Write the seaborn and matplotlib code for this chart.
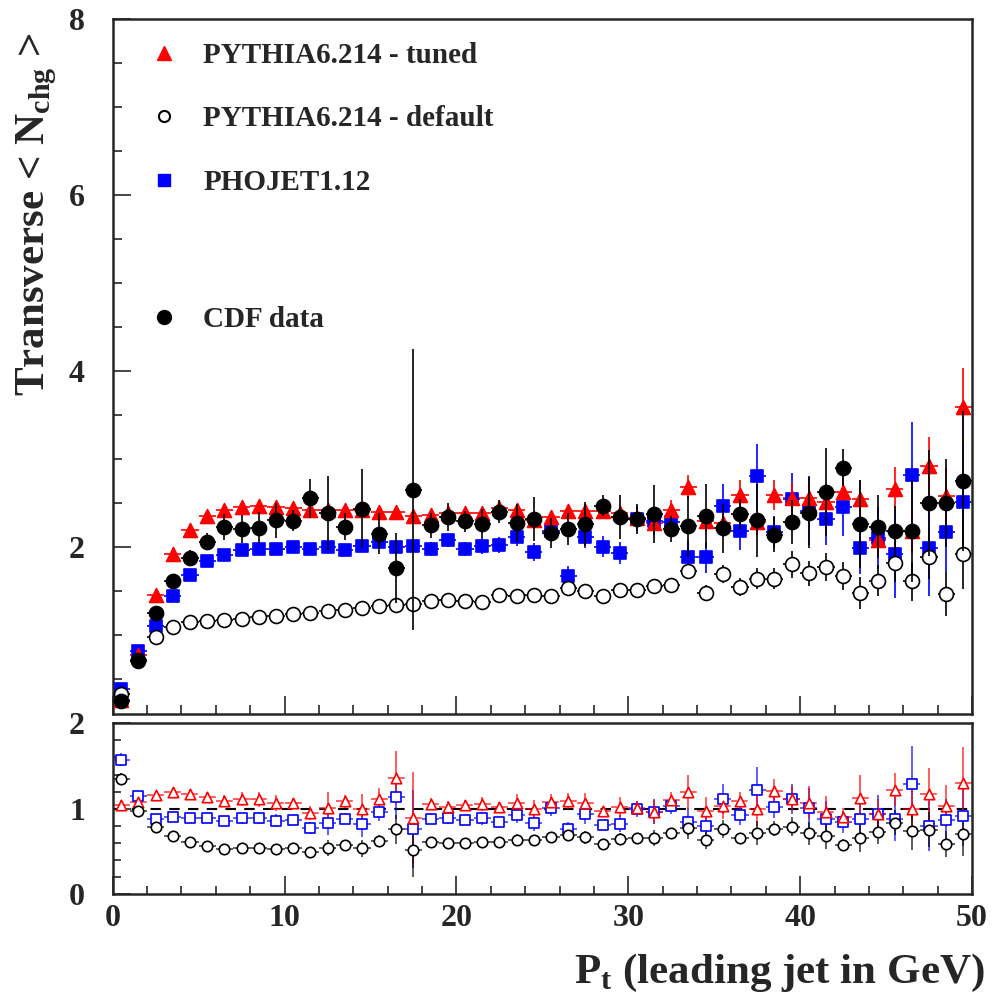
import numpy as np
import pandas as pd
import matplotlib
matplotlib.use("Agg")
import matplotlib.pyplot as plt
from matplotlib.lines import Line2D
from matplotlib.ticker import MultipleLocator
import seaborn as sns

# bin centres of leading jet Pt (GeV)
pt = np.arange(0.5, 50, 1.0)

# CDF data
cdf = [0.245, 0.716, 1.25, 1.61, 1.875, 2.06, 2.227, 2.205, 2.22, 2.30,
       2.295, 2.55, 2.39, 2.23, 2.435, 2.15, 1.76, 2.65, 2.245, 2.34,
       2.29, 2.265, 2.40, 2.27, 2.32, 2.16, 2.205, 2.265, 2.47, 2.34,
       2.32, 2.37, 2.20, 2.234, 2.35, 2.21, 2.37, 2.30, 2.14, 2.28,
       2.39, 2.625, 2.90, 2.26, 2.23, 2.18, 2.18, 2.50, 2.50, 2.75]
cdf_err = [0.01, 0.02, 0.03, 0.06, 0.09, 0.10, 0.15, 0.16, 0.18, 0.20,
           0.12, 0.22, 0.42, 0.15, 0.45, 0.23, 0.40, 1.60, 0.14, 0.16,
           0.12, 0.16, 0.13, 0.22, 0.25, 0.17, 0.18, 0.25, 0.12, 0.25,
           0.17, 0.33, 0.15, 0.35, 0.36, 0.28, 0.17, 0.42, 0.20, 0.25,
           0.40, 0.50, 0.21, 0.50, 0.36, 0.28, 0.58, 0.60, 0.50, 0.80]

# PYTHIA6.214 - tuned
tuned = [0.256, 0.77, 1.45, 1.92, 2.196, 2.348, 2.424, 2.455, 2.46, 2.455,
         2.44, 2.42, 2.42, 2.42, 2.415, 2.40, 2.40, 2.355, 2.36, 2.39,
         2.39, 2.39, 2.44, 2.42, 2.31, 2.34, 2.405, 2.405, 2.405, 2.39,
         2.33, 2.27, 2.42, 2.68, 2.29, 2.27, 2.586, 2.28, 2.59, 2.55,
         2.557, 2.51, 2.625, 2.54, 2.08, 2.66, 2.18, 2.915, 2.575, 3.59]
tuned_err = [0.01, 0.01, 0.02, 0.02, 0.02, 0.02, 0.02, 0.02, 0.02, 0.03,
             0.03, 0.03, 0.03, 0.03, 0.04, 0.04, 0.04, 0.04, 0.05, 0.05,
             0.05, 0.05, 0.06, 0.06, 0.06, 0.07, 0.07, 0.08, 0.08, 0.08,
             0.09, 0.10, 0.11, 0.14, 0.12, 0.14, 0.17, 0.15, 0.17, 0.18,
             0.17, 0.20, 0.22, 0.22, 0.20, 0.25, 0.25, 0.33, 0.32, 0.44]

# PYTHIA6.214 - default
default = [0.33, 0.70, 0.977, 1.086, 1.143, 1.163, 1.174, 1.185, 1.20, 1.21,
           1.24, 1.25, 1.276, 1.28, 1.31, 1.333, 1.335, 1.356, 1.38, 1.40,
           1.38, 1.375, 1.455, 1.44, 1.455, 1.44, 1.534, 1.50, 1.447, 1.51,
           1.51, 1.56, 1.565, 1.73, 1.477, 1.69, 1.545, 1.64, 1.64, 1.80,
           1.70, 1.77, 1.665, 1.477, 1.616, 1.82, 1.61, 1.88, 1.466, 1.92]
default_err = [0.01, 0.01, 0.01, 0.01, 0.01, 0.01, 0.01, 0.01, 0.01, 0.02,
               0.02, 0.02, 0.02, 0.02, 0.02, 0.02, 0.02, 0.03, 0.03, 0.03,
               0.03, 0.03, 0.04, 0.04, 0.04, 0.04, 0.05, 0.05, 0.05, 0.06,
               0.06, 0.07, 0.07, 0.10, 0.09, 0.10, 0.10, 0.12, 0.12, 0.15,
               0.14, 0.16, 0.16, 0.18, 0.18, 0.22, 0.22, 0.25, 0.25, 0.40]

# PHOJET1.12
phojet = [0.386, 0.822, 1.098, 1.446, 1.68, 1.836, 1.91, 1.96, 1.98, 1.98,
          2.0, 1.98, 2.0, 1.97, 2.007, 2.06, 2.0, 2.007, 1.98, 2.075,
          1.98, 2.007, 2.02, 2.11, 1.94, 2.18, 1.673, 2.11, 2.0, 1.93,
          2.32, 2.29, 2.28, 1.89, 1.88, 2.46, 2.18, 2.80, 2.17, 2.54,
          2.41, 2.32, 2.45, 1.99, 2.10, 1.92, 2.82, 1.99, 2.17, 2.51]
phojet_err = [0.01, 0.02, 0.02, 0.02, 0.03, 0.03, 0.03, 0.03, 0.04, 0.04,
              0.04, 0.05, 0.05, 0.05, 0.06, 0.06, 0.07, 0.07, 0.08, 0.08,
              0.08, 0.09, 0.09, 0.10, 0.10, 0.11, 0.11, 0.12, 0.12, 0.13,
              0.14, 0.15, 0.16, 0.19, 0.18, 0.25, 0.22, 0.37, 0.18, 0.30,
              0.39, 0.30, 0.33, 0.30, 0.35, 0.50, 0.60, 0.55, 0.45, 0.65]

labels = ["PYTHIA6.214 - tuned", "PYTHIA6.214 - default", "PHOJET1.12", "CDF data"]

sns.set_theme(style="ticks")
plt.rcParams["font.family"] = ["Liberation Serif", "DejaVu Serif"]
plt.rcParams["font.weight"] = "bold"
plt.rcParams["mathtext.fontset"] = "custom"
plt.rcParams["mathtext.rm"] = "Liberation Serif:bold"
plt.rcParams["mathtext.bf"] = "Liberation Serif:bold"
plt.rcParams["axes.linewidth"] = 1.8

fig = plt.figure(figsize=(9.92, 9.96), dpi=100)
ax = fig.add_axes([0.1136, 0.2831, 0.8663, 0.6978])
axr = fig.add_axes([0.1136, 0.1024, 0.8663, 0.1714])

# model settings: values, errors, marker, edge colour, fill colour, size
models = [
    (phojet, phojet_err, "s", "blue", "blue", 9),
    (tuned, tuned_err, "^", "red", "red", 10),
    (default, default_err, "o", "black", "white", 10),
]

# top panel
for vals, errs, mk, col, fill, ms in models:
    eb = ax.errorbar(pt, vals, xerr=0.5, yerr=errs, fmt="none", ecolor=col,
                     elinewidth=1.2, capsize=0, zorder=2)
    if mk == "^":
        eb[2][0].set_linestyle((0, (4, 3)))
    sns.scatterplot(x=pt, y=vals, marker=mk, color=fill, edgecolor=col,
                    linewidth=1.2, s=ms ** 2, ax=ax, legend=False, zorder=3)

ax.errorbar(pt, cdf, xerr=0.5, yerr=cdf_err, fmt="none", ecolor="black",
            elinewidth=1.2, capsize=0, zorder=4)
sns.scatterplot(x=pt, y=cdf, marker="o", color="black", edgecolor="black",
                s=110, ax=ax, legend=False, zorder=5)

ax.set_xlim(0, 50)
ax.set_ylim(0.1, 8)
ax.yaxis.set_major_locator(MultipleLocator(2))
ax.yaxis.set_minor_locator(MultipleLocator(0.5))
ax.xaxis.set_major_locator(MultipleLocator(10))
ax.xaxis.set_minor_locator(MultipleLocator(2))
ax.tick_params(which="major", direction="in", length=13, width=1.2, labelsize=23, pad=20)
ax.tick_params(which="minor", direction="in", length=6.5, width=1.2)
ax.tick_params(axis="x", labelbottom=False)
ax.set_yticks([2, 4, 6, 8])
ax.set_ylabel(r"Transverse < N$_{\rm chg}$ >", fontsize=31, fontweight="bold")
ax.yaxis.set_label_coords(-0.062, 0.72)

# legend
h_tuned = Line2D([], [], marker="^", ls="none", color="red", ms=10)
h_def = Line2D([], [], marker="o", ls="none", mfc="white", mec="black", mew=1.5, ms=8)
h_pho = Line2D([], [], marker="s", ls="none", color="blue", ms=9)
h_cdf = Line2D([], [], marker="o", ls="none", color="black", ms=10)
leg_font = {"family": "Liberation Serif", "weight": "bold", "size": 21}
leg1 = ax.legend([h_tuned, h_def, h_pho], labels[:3], loc="upper left",
                 bbox_to_anchor=(0.012, 1.005), frameon=False, labelspacing=1.25,
                 handlelength=1.0, handletextpad=0.85, prop=leg_font)
ax.add_artist(leg1)
ax.legend([h_cdf], labels[3:], loc="upper left", bbox_to_anchor=(0.012, 0.625),
          frameon=False, handlelength=1.0, handletextpad=0.85, prop=leg_font)

# ratio panel: model / data
cdf_a = np.array(cdf)
cdf_rel = np.array(cdf_err) / cdf_a
ratio_models = [
    (phojet, phojet_err, "s", "blue", 7),
    (tuned, tuned_err, "^", "red", 7.5),
    (default, default_err, "o", "black", 7.5),
]
axr.axhline(1, color="black", ls=(0, (5, 4)), lw=1.5, zorder=1)
for vals, errs, mk, col, ms in ratio_models:
    v = np.array(vals)
    r = v / cdf_a
    rerr = r * np.sqrt((np.array(errs) / v) ** 2 + cdf_rel ** 2)
    eb = axr.errorbar(pt, r, xerr=0.5, yerr=rerr, fmt="none", ecolor=col,
                      elinewidth=1.1, capsize=0, zorder=2, alpha=0.8)
    if mk == "^":
        eb[2][0].set_linestyle((0, (4, 3)))
    sns.scatterplot(x=pt, y=r, marker=mk, color="white", edgecolor=col,
                    linewidth=1.2, s=ms ** 2, ax=axr, legend=False, zorder=3)

axr.set_xlim(0, 50)
axr.set_ylim(0, 2)
axr.yaxis.set_major_locator(MultipleLocator(1))
axr.yaxis.set_minor_locator(MultipleLocator(0.2))
axr.xaxis.set_major_locator(MultipleLocator(10))
axr.xaxis.set_minor_locator(MultipleLocator(2))
axr.tick_params(which="major", direction="in", length=13, width=1.2, labelsize=23)
axr.tick_params(axis="y", which="major", pad=20)
axr.tick_params(axis="x", which="major", pad=7)
axr.tick_params(which="minor", direction="in", length=6, width=1.2)
axr.set_xlabel(r"P$_{\rm t}$ (leading jet in GeV)", fontsize=31, fontweight="bold", loc="right")
axr.xaxis.set_label_coords(1.015, -0.34)

for a in (ax, axr):
    for t in a.get_xticklabels() + a.get_yticklabels():
        t.set_fontweight("bold")

fig.savefig("out.png", dpi=100)
